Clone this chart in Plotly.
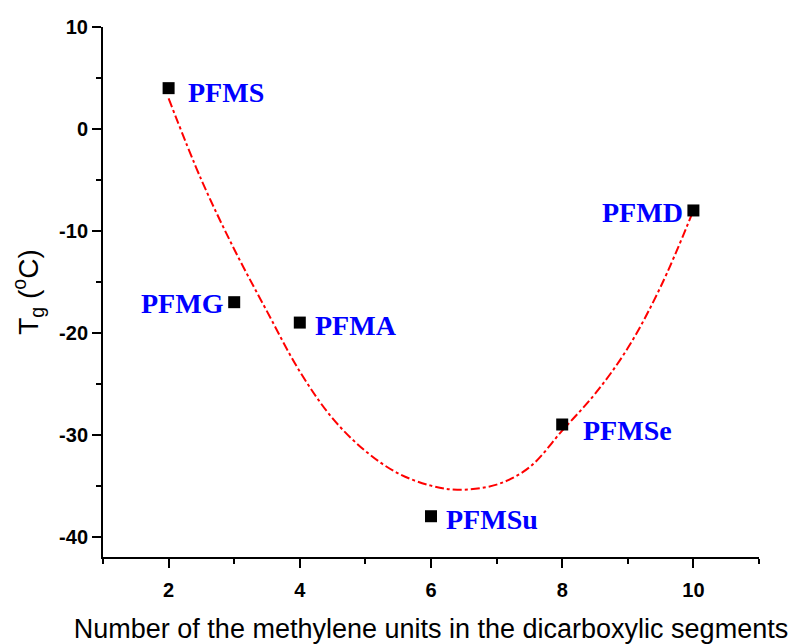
import plotly.graph_objects as go

# Data
n_methylene = [2, 3, 4, 6, 8, 10]
tg_values = [4, -17, -19, -38, -29, -8]
names = ["PFMS", "PFMG", "PFMA", "PFMSu", "PFMSe", "PFMD"]
label_side = ["right", "left", "right", "right", "right", "left"]

# Fitted curve
fit_x = [2, 2.5, 3, 3.5, 4, 4.5, 5, 5.5, 6, 6.4, 7, 7.5, 8, 8.5, 9, 9.5, 10]
fit_y = [3, -5, -11.8, -17.9, -23.8, -28.4, -31.6, -33.8, -35.0, -35.4, -34.9, -33.2, -29.6, -26.0, -21.5, -15.5, -8]

# Tick labels
x_tickvals = [2, 4, 6, 8, 10]
x_ticktext = ["2", "4", "6", "8", "10"]
y_tickvals = [10, 0, -10, -20, -30, -40]
y_ticktext = ["10", "0", "-10", "-20", "-30", "-40"]

fig = go.Figure()
fig.add_trace(go.Scatter(x=fit_x, y=fit_y, mode="lines",
                         line=dict(color="#ff0000", width=2, dash="dashdot", shape="spline"),
                         showlegend=False, hoverinfo="skip"))
fig.add_trace(go.Scatter(x=n_methylene, y=tg_values, mode="markers",
                         marker=dict(symbol="square", size=12, color="black"),
                         showlegend=False))

shifts = {"PFMS": (17, -4), "PFMG": (-8, -1), "PFMA": (13, -3),
          "PFMSu": (13, -3), "PFMSe": (19, -6), "PFMD": (-8, -2)}
for x, y, nm, side in zip(n_methylene, tg_values, names, label_side):
    xs, ys = shifts[nm]
    fig.add_annotation(x=x, y=y, text=nm, showarrow=False,
                       xanchor="left" if side == "right" else "right",
                       yanchor="middle", xshift=xs, yshift=ys,
                       font=dict(family="Liberation Serif", size=28, color="#0000ff", weight="bold"))

axis_common = dict(showline=True, linecolor="black", linewidth=2, mirror=False,
                   ticks="outside", ticklen=9, tickwidth=2, tickcolor="black",
                   showgrid=False, zeroline=False, tickmode="array", automargin=False,
                   tickfont=dict(family="Liberation Sans", size=20, color="black", weight="bold"))

fig.update_xaxes(range=[1, 11], tickvals=x_tickvals, ticktext=x_ticktext, ticklabelstandoff=5,
                 minor=dict(ticks="outside", ticklen=5, tickwidth=2, tickcolor="black",
                            tickmode="linear", dtick=1, tick0=0),
                 title=dict(text="Number of the methylene units in the dicarboxylic segments",
                            font=dict(family="Liberation Sans", size=27, color="black"), standoff=23),
                 **axis_common)
fig.update_yaxes(range=[-42, 10], tickvals=y_tickvals, ticktext=y_ticktext,
                 minor=dict(ticks="outside", ticklen=5, tickwidth=2, tickcolor="black",
                            tickmode="linear", dtick=5, tick0=0),
                 title=dict(text="T<sub>g</sub> (<sup>o</sup>C)",
                            font=dict(family="Liberation Sans", size=28, color="black"), standoff=17),
                 **axis_common)

fig.update_layout(width=788, height=636, margin=dict(l=95, r=37, t=19, b=87),
                  paper_bgcolor="white", plot_bgcolor="white")

fig.write_html("out.html")
